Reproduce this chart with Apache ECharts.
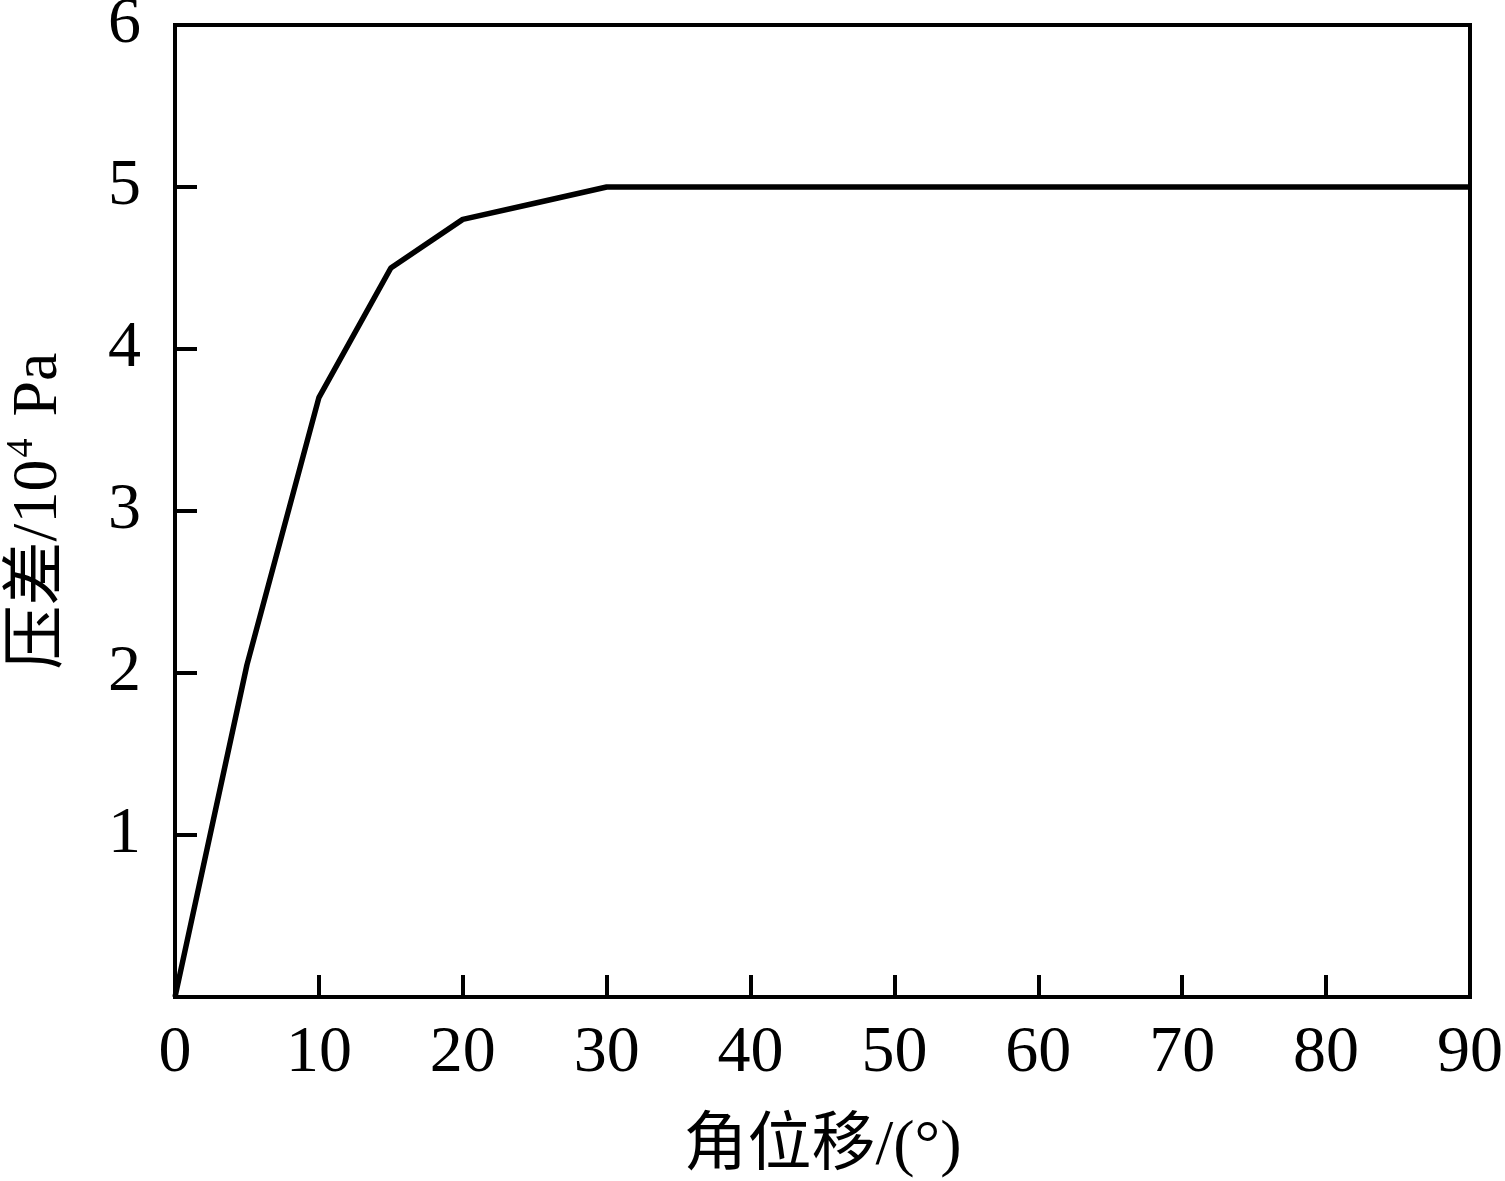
<!DOCTYPE html>
<html>
<head>
<meta charset="utf-8">
<script src="https://cdn.jsdelivr.net/npm/echarts@6/dist/echarts.min.js"></script>
<style>
  html, body { margin: 0; padding: 0; background: #fff; }
  #chart_container { width: 1505px; height: 1181px; }
</style>
</head>
<body>
<div id="chart_container"></div>
<script>
// 角位移 (°) vs 压差 (10^4 Pa)
var angles = [0, 5, 10, 15, 20, 25, 30, 90];
var pressure = [0, 2.05, 3.7, 4.5, 4.8, 4.9, 5.0, 5.0];
var xTicks = [0, 10, 20, 30, 40, 50, 60, 70, 80, 90];
var yTicks = [0, 1, 2, 3, 4, 5, 6];

var FONT = "'Liberation Serif', 'Times New Roman', 'Noto Sans CJK SC', serif";

var dom = document.getElementById("chart_container");
var myChart = echarts.init(dom, null, { renderer: "canvas" });

var seriesData = angles.map(function (a, i) {
  return [a, pressure[i]];
});

var option = {
  backgroundColor: "#fff",
  animation: false,
  grid: {
    left: 175,
    right: 35,
    top: 25,
    bottom: 184,
    containLabel: false,
    outerBoundsMode: "none",
    show: true,
    borderColor: "#000",
    borderWidth: 4,
  },
  xAxis: {
    type: "value",
    min: xTicks[0],
    max: xTicks[xTicks.length - 1],
    interval: 10,
    name: "角位移/(°)",
    nameLocation: "middle",
    nameGap: 118,
    nameTextStyle: { fontFamily: FONT, fontSize: 64, color: "#000" },
    axisLine: { lineStyle: { color: "#000", width: 4 } },
    axisTick: { inside: true, length: 22, lineStyle: { color: "#000", width: 4 } },
    axisLabel: { fontFamily: FONT, fontSize: 66, color: "#000", margin: 24 },
    splitLine: { show: false },
  },
  yAxis: {
    type: "value",
    min: yTicks[0],
    max: yTicks[yTicks.length - 1],
    interval: 1,
    name: "{t|压差/10}{s|4}{t| Pa}",
    nameLocation: "middle",
    nameGap: 100,
    nameTextStyle: {
      color: "#000",
      rich: {
        t: { fontFamily: FONT, fontSize: 64, color: "#000", lineHeight: 72 },
        s: { fontFamily: FONT, fontSize: 38, color: "#000", verticalAlign: "top", lineHeight: 72, padding: [0, 6, 20, 2] },
      },
    },
    axisLine: { lineStyle: { color: "#000", width: 4 } },
    axisTick: { inside: true, length: 22, lineStyle: { color: "#000", width: 4 } },
    axisLabel: {
      fontFamily: FONT,
      fontSize: 66,
      color: "#000",
      margin: 34,
      formatter: function (v) {
        return v === 0 ? "" : String(v);
      },
    },
    splitLine: { show: false },
  },
  series: [
    {
      type: "line",
      data: seriesData,
      symbol: "none",
      lineStyle: { color: "#000", width: 5.5 },
    },
  ],
};

myChart.setOption(option);
window.addEventListener("resize", myChart.resize);
</script>
</body>
</html>
